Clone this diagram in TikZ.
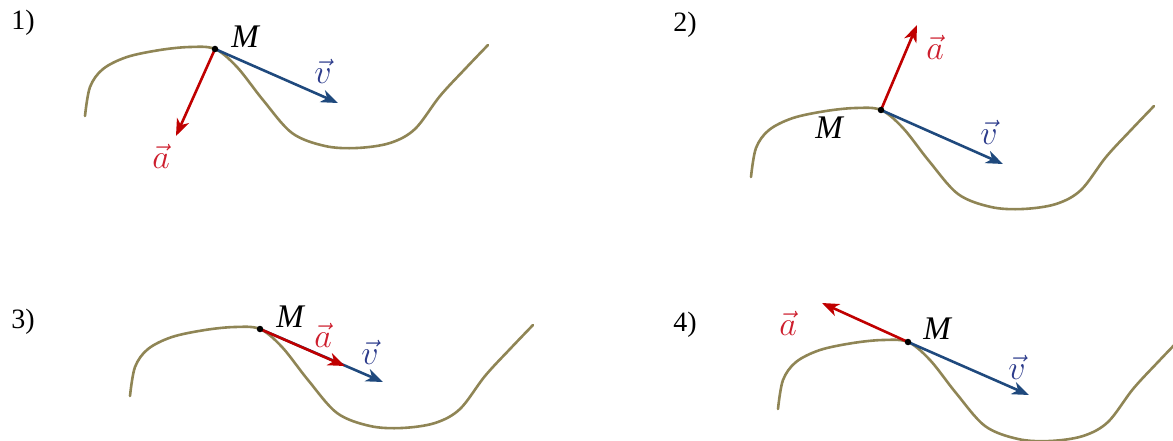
\RequirePackage{fix-cm}
\documentclass[tikz,border=0pt]{standalone}
\usepackage{fontspec}
\setmainfont{Liberation Serif}
\usetikzlibrary{arrows.meta}
\definecolor{Ccurve}{RGB}{143,133,85}
\definecolor{Cacc}{RGB}{192,0,0}
\definecolor{Cvel}{RGB}{31,73,125}
\definecolor{Calbl}{RGB}{205,30,45}
\definecolor{Cvlbl}{RGB}{45,60,140}

\tikzset{
  trackline/.style={draw=Ccurve,line width=2.6pt},
  accvec/.style={draw=Cacc,line width=2.6pt,-{Stealth[length=17pt,width=13pt,inset=5pt]}},
  velvec/.style={draw=Cvel,line width=2.6pt,-{Stealth[length=17pt,width=13pt,inset=5pt]}},
  ptdot/.style={circle,fill=black,inner sep=0pt,minimum size=6.5pt},
  numlbl/.style={font=\fontsize{28}{30}\selectfont,inner sep=0pt},
  ptlbl/.style={font=\fontsize{33}{36}\selectfont\itshape,inner sep=0pt},
  alabel/.style={text=Calbl,font=\fontsize{34}{36}\selectfont,inner sep=0pt},
  vlabel/.style={text=Cvlbl,font=\fontsize{34}{36}\selectfont,inner sep=0pt}
}
\newcommand{\trackpath}{plot[smooth,tension=0.55] coordinates {(-130,67) (-125,38) (-112,20) (-88,8) (-55,1) (-25,-2) (0,0) (22,18) (48,51) (77,84) (110,97) (142,99) (175,94) (200,80) (225,47) (250,20) (273,-4)}}

\begin{document}
\begin{tikzpicture}[x=1pt,y=-1pt,line cap=round,line join=round]
\useasboundingbox (0,0) rectangle (1173,441);
\clip (0,0) rectangle (1173,441);

\node[numlbl] (n1) at (23,23) {1)};
\node[numlbl] (n2) at (685,25) {2)};
\node[numlbl] (n3) at (23,322) {3)};
\node[numlbl] (n4) at (685,325) {4)};

\begin{scope}[shift={(215,49)}]
\draw[trackline] \trackpath;
\coordinate (M1) at (0,0);
\coordinate (v1) at (123,54);
\coordinate (a1) at (-39,87);
\draw[velvec] (M1) -- (v1);
\draw[accvec] (M1) -- (a1);
\node[ptdot] (d1) at (M1) {};
\node[ptlbl] (m1) at (30,-12) {M};
\node[vlabel] (lv1) at (108,22) {$\vec{v}$};
\node[alabel] (la1) at (-54,107) {$\vec{a}$};
\end{scope}

\begin{scope}[shift={(881,110)}]
\draw[trackline] \trackpath;
\coordinate (M2) at (0,0);
\coordinate (v2) at (122,54);
\coordinate (a2) at (36,-85);
\draw[velvec] (M2) -- (v2);
\draw[accvec] (M2) -- (a2);
\node[ptdot] (d2) at (M2) {};
\node[ptlbl] (m2) at (-52,18) {M};
\node[vlabel] (lv2) at (108,22) {$\vec{v}$};
\node[alabel] (la2) at (54,-63) {$\vec{a}$};
\end{scope}

\begin{scope}[shift={(260,329)}]
\draw[trackline] \trackpath;
\coordinate (M3) at (0,0);
\coordinate (v3) at (123,53);
\coordinate (a3) at (85,37);
\draw[velvec] (M3) -- (v3);
\draw[accvec] (M3) -- (a3);
\node[ptdot] (d3) at (M3) {};
\node[ptlbl] (m3) at (30,-12) {M};
\node[vlabel] (lv3) at (110,23) {$\vec{v}$};
\node[alabel] (la3) at (63,6) {$\vec{a}$};
\end{scope}

\begin{scope}[shift={(908,342)}]
\draw[trackline] \trackpath;
\coordinate (M4) at (0,0);
\coordinate (v4) at (121,53);
\coordinate (a4) at (-86,-39);
\draw[velvec] (M4) -- (v4);
\draw[accvec] (M4) -- (a4);
\node[ptdot] (d4) at (M4) {};
\node[ptlbl] (m4) at (29,-13) {M};
\node[vlabel] (lv4) at (109,25) {$\vec{v}$};
\node[alabel] (la4) at (-120,-19) {$\vec{a}$};
\end{scope}
\end{tikzpicture}
\end{document}
